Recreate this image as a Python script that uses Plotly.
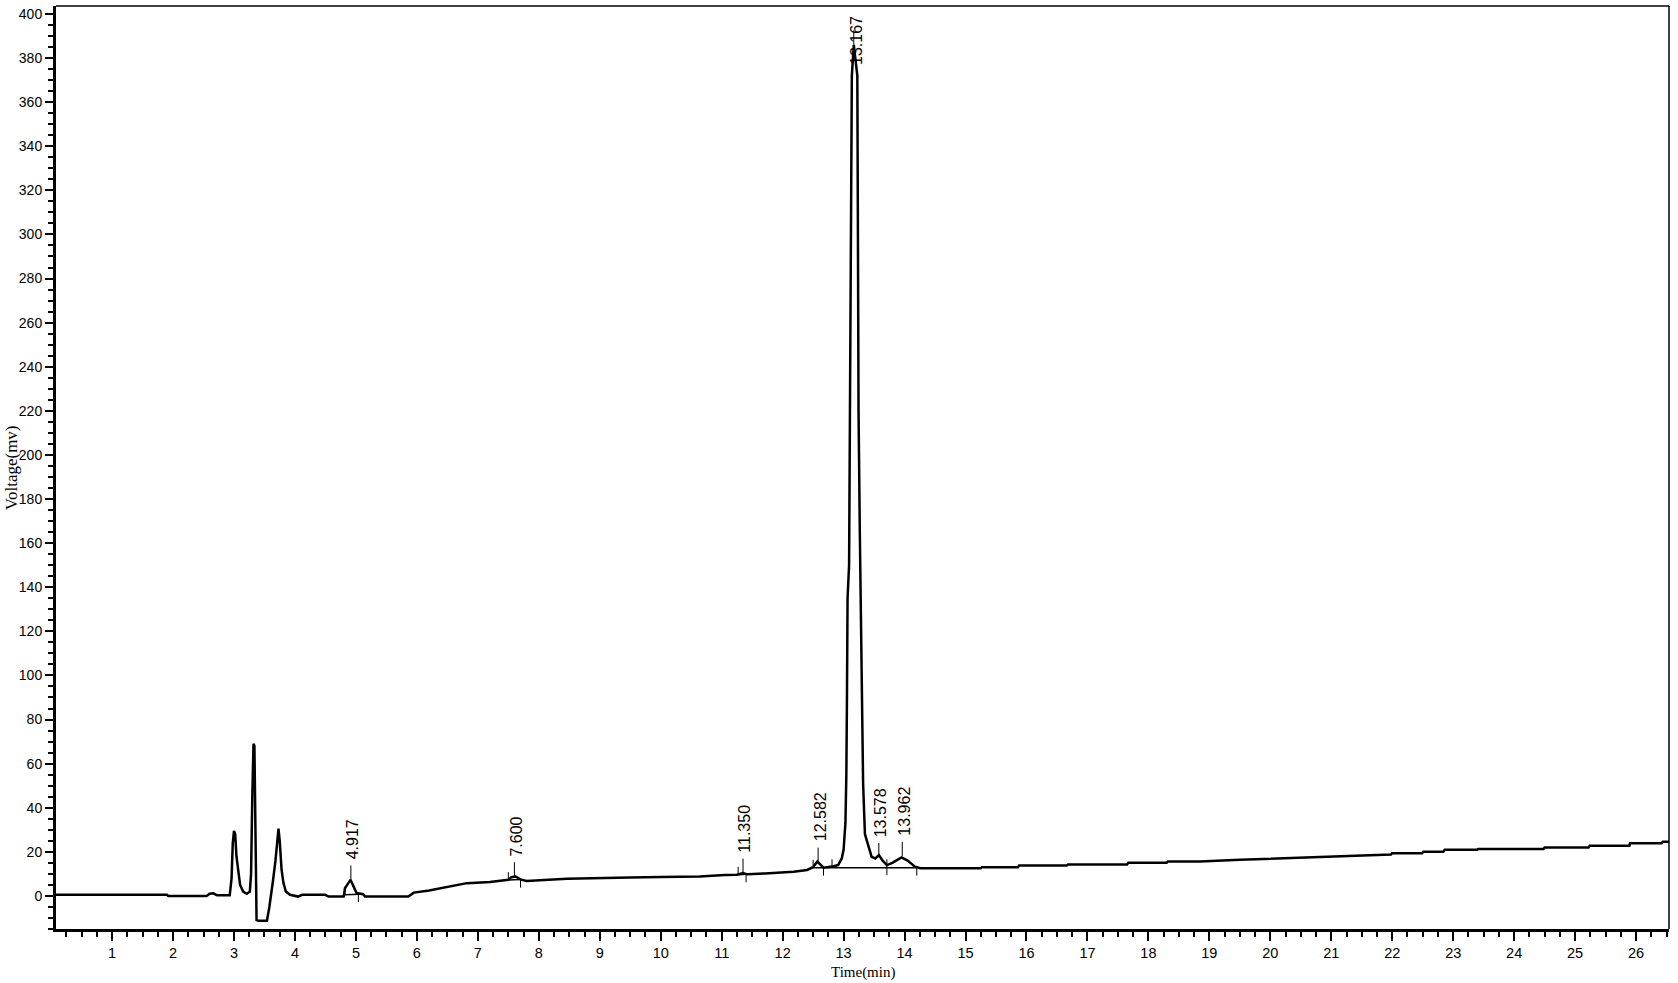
import plotly.graph_objects as go

# ---- chromatogram trace (time in min, voltage in mV) ----
time_min = [0.08, 1.90, 1.92, 2.55, 2.60, 2.66, 2.72, 2.93, 2.96, 2.98, 3.00, 3.02, 3.04, 3.07,
            3.10, 3.15, 3.21, 3.26, 3.28, 3.30, 3.32, 3.335, 3.35, 3.37, 3.40, 3.54, 3.58, 3.62,
            3.64, 3.68, 3.71, 3.73, 3.75, 3.78, 3.81, 3.85, 3.92, 4.00, 4.05, 4.12, 4.50, 4.55,
            4.80, 4.82, 4.86, 4.91, 4.95, 5.01, 5.12, 5.15, 5.86, 5.95, 6.20, 6.50, 6.82, 7.20,
            7.50, 7.55, 7.62, 7.70, 7.80, 8.46, 9.00, 9.50, 10.00, 10.64, 11.05, 11.25, 11.35,
            11.42, 11.71, 12.18, 12.40, 12.50, 12.57, 12.63, 12.67, 12.81, 12.91, 12.97, 13.00,
            13.03, 13.045, 13.055, 13.065, 13.09, 13.105, 13.125, 13.135, 13.167, 13.225, 13.235,
            13.245, 13.265, 13.29, 13.30, 13.32, 13.35, 13.41, 13.46, 13.52, 13.58, 13.64, 13.71,
            13.80, 13.95, 14.05, 14.17, 14.26, 15.25, 15.27, 15.86, 15.88, 16.66, 16.68, 17.65,
            17.67, 18.30, 18.32, 18.85, 19.50, 20.50, 21.20, 21.98, 22.00, 22.49, 22.51, 22.84,
            22.86, 23.39, 23.41, 24.48, 24.50, 25.22, 25.24, 25.89, 25.90, 26.42, 26.44, 26.54]
voltage_mv = [0.5, 0.5, 0.0, 0.0, 1.0, 1.2, 0.3, 0.3, 8.0, 24.0, 29.5, 28.0, 18.0, 10.0,
              5.0, 2.0, 1.0, 2.0, 10.0, 45.0, 69.0, 68.0, 20.0, -11.0, -11.3, -11.3, -5.0, 2.0,
              7.0, 16.0, 27.0, 30.5, 25.0, 12.0, 6.0, 2.0, 0.5, 0.2, -0.3, 0.5, 0.5, -0.3,
              -0.3, 3.5, 5.0, 7.3, 5.0, 1.3, 0.8, -0.3, -0.3, 1.5, 2.5, 4.0, 5.8, 6.3,
              7.3, 8.5, 8.8, 7.5, 6.8, 7.8, 8.2, 8.4, 8.6, 8.8, 9.5, 9.6, 10.4,
              9.8, 10.2, 11.0, 11.8, 13.0, 15.6, 14.0, 12.8, 13.3, 14.0, 17.0, 21.0,
              33.0, 55.0, 90.0, 135.0, 150.0, 233.0, 300.0, 372.0, 386.0, 372.0, 300.0,
              220.0, 167.0, 120.0, 95.0, 51.0, 28.0, 21.8, 17.7, 17.0, 18.5, 16.0, 14.0,
              15.0, 17.5, 16.0, 13.3, 12.6, 12.6, 13.0, 13.0, 13.8, 13.8, 14.2, 14.2,
              15.1, 15.1, 15.6, 15.6, 16.4, 17.4, 18.1, 18.8, 19.4, 19.4, 20.0, 20.0,
              20.9, 20.9, 21.3, 21.3, 22.0, 22.0, 22.7, 22.7, 23.9, 23.9, 24.6, 24.6]

# ---- integrated peaks: retention time labels and apex heights ----
peak_labels = ["4.917", "7.600", "11.350", "12.582", "13.167", "13.578", "13.962"]
peak_time = [4.917, 7.600, 11.350, 12.582, 13.167, 13.578, 13.962]
peak_apex = [7.3, 8.8, 10.4, 15.4, 386.0, 17.5, 18.0]

# ---- integration baselines (start/end) ----
base_start_t = [4.82, 7.50, 11.27, 12.50]
base_start_v = [0.5, 7.2, 9.6, 12.8]
base_end_t = [5.06, 7.70, 11.40, 14.20]
base_end_v = [0.8, 7.4, 9.8, 12.8]

# ---- baseline event markers: time, level, direction ----
mark_t = [4.82, 5.04, 7.50, 7.70, 11.27, 11.40, 12.50, 12.67, 12.81, 13.71, 14.20]
mark_v = [0.5, 0.8, 7.2, 7.4, 9.6, 9.8, 12.8, 12.8, 13.0, 13.0, 12.8]
mark_dir = ["up", "down", "up", "down", "up", "down", "up", "down", "up", "both", "down"]

X_RANGE = [0.08, 26.54]
Y_RANGE = [-15.0, 403.6]
TICK_FONT = "Liberation Sans Narrow, Arial Narrow, Liberation Sans, Arial, sans-serif"

fig = go.Figure()

fig.add_trace(go.Scatter(x=time_min, y=voltage_mv, mode="lines",
                         line=dict(color="black", width=2.5), hoverinfo="skip",
                         showlegend=False))

# baselines
for t0, v0, t1, v1 in zip(base_start_t, base_start_v, base_end_t, base_end_v):
    fig.add_trace(go.Scatter(x=[t0, t1], y=[v0, v1], mode="lines",
                             line=dict(color="black", width=1.5), showlegend=False,
                             hoverinfo="skip"))

# event markers
MARK_LEN = 3.6
for t, v, d in zip(mark_t, mark_v, mark_dir):
    lo = v - MARK_LEN if d in ("down", "both") else v
    hi = v + MARK_LEN if d in ("up", "both") else v
    fig.add_trace(go.Scatter(x=[t, t], y=[lo, hi], mode="lines",
                             line=dict(color="black", width=1), showlegend=False,
                             hoverinfo="skip"))

# peak label ticks and labels
TICK_UNITS = 6.5
LABEL_FONT = dict(family="Liberation Sans, Arial, sans-serif", size=16, color="black")
for lab, t, v in zip(peak_labels, peak_time, peak_apex):
    top = v + TICK_UNITS
    fig.add_trace(go.Scatter(x=[t, t], y=[v, top], mode="lines",
                             line=dict(color="black", width=1), showlegend=False,
                             hoverinfo="skip"))
    if top + 20 > Y_RANGE[1]:
        fig.add_annotation(x=t, y=Y_RANGE[1] - 3.5, text=lab, textangle=-90,
                           showarrow=False, xanchor="center", yanchor="top", xshift=2,
                           font=LABEL_FONT)
    else:
        fig.add_annotation(x=t, y=top, text=lab, textangle=-90, showarrow=False,
                           xanchor="center", yanchor="bottom", yshift=4, xshift=2,
                           font=LABEL_FONT)

# axis titles
fig.add_annotation(xref="paper", yref="paper", x=0.5, y=-0.0466, text="Time(min)",
                   showarrow=False, xanchor="center", yanchor="middle",
                   font=dict(family="Liberation Serif, Times New Roman, serif", size=15,
                             color="black"))
fig.add_annotation(xref="paper", yref="paper", x=-0.0275, y=0.5, text="Voltage(mv)",
                   textangle=-90, showarrow=False, xanchor="center", yanchor="middle",
                   font=dict(family="Liberation Serif, Times New Roman, serif", size=17,
                             color="black"))

# thin top / right frame
fig.add_shape(type="line", xref="paper", yref="paper", x0=0, x1=1, y0=1, y1=1,
              line=dict(color="black", width=1.5))
fig.add_shape(type="line", xref="paper", yref="paper", x0=1, x1=1, y0=0, y1=1,
              line=dict(color="black", width=1.5))

fig.update_layout(
    width=1678, height=983,
    margin=dict(l=56, r=9, t=6, b=54),
    paper_bgcolor="white", plot_bgcolor="white",
    showlegend=False,
    xaxis=dict(range=X_RANGE, tick0=0, dtick=1, ticks="outside", ticklen=9, tickwidth=2,
               tickcolor="black", showline=True, linewidth=3, linecolor="black",
               showgrid=False, zeroline=False,
               minor=dict(dtick=0.25, tick0=0, ticks="outside", ticklen=5, tickwidth=1.5,
                          tickcolor="black", showgrid=False),
               tickfont=dict(family="Liberation Sans, Arial, sans-serif", size=14.5,
                             color="black")),
    yaxis=dict(range=Y_RANGE, tick0=0, dtick=20, ticks="outside", ticklen=8, tickwidth=2,
               tickcolor="black", showline=True, linewidth=3, linecolor="black",
               showgrid=False, zeroline=False,
               minor=dict(dtick=5, tick0=0, ticks="outside", ticklen=5, tickwidth=1.5,
                          tickcolor="black", showgrid=False),
               ticklabelstandoff=0,
               tickfont=dict(family="Liberation Sans, Arial, sans-serif", size=14,
                             color="black")),
)

fig.write_html("out.html", config={"displayModeBar": False},
               post_script="document.body.style.margin='0px';document.body.style.padding='0px';")
